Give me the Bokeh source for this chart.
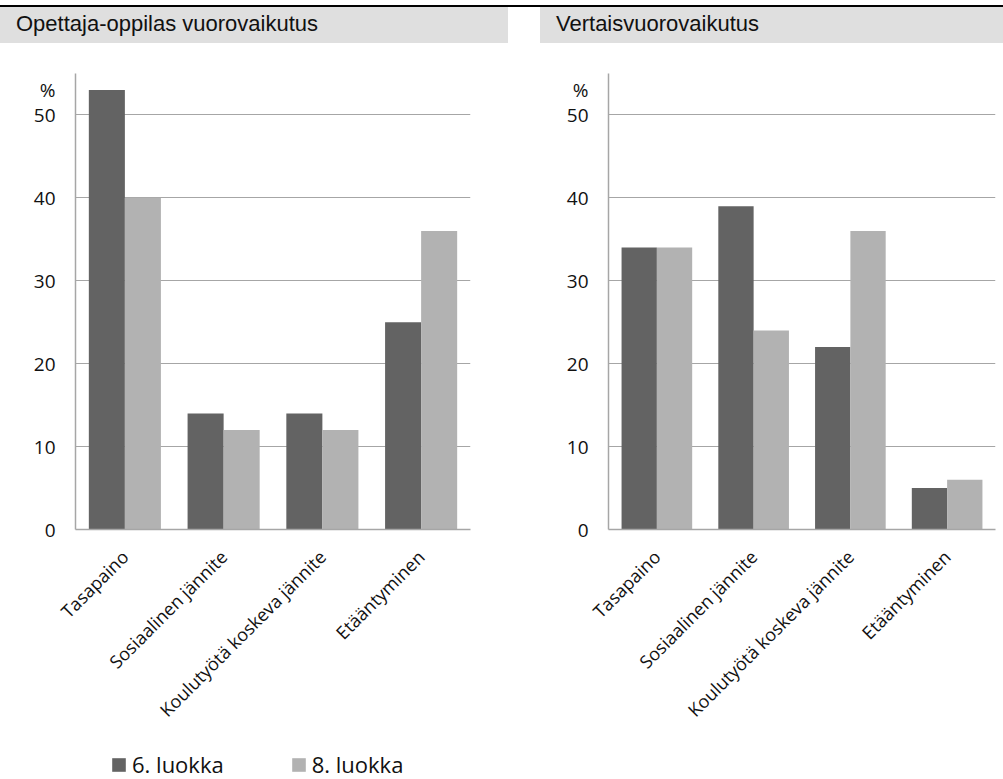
from bokeh.plotting import figure
from bokeh.models import (ColumnDataSource, Div, Legend, LegendItem,
                          Range1d, FixedTicker)
from bokeh.transform import dodge
from bokeh.layouts import column, row
from bokeh.embed import file_html
from bokeh.resources import INLINE

# ---- data -------------------------------------------------------------
categories = ["Tasapaino", "Sosiaalinen jännite",
              "Koulutyötä koskeva jännite", "Etääntyminen"]
series_names = ["6. luokka", "8. luokka"]

teacher_grade6 = [53, 14, 14, 25]
teacher_grade8 = [40, 12, 12, 36]

peer_grade6 = [34, 39, 22, 5]
peer_grade8 = [34, 24, 36, 6]

panel_titles = ["Opettaja-oppilas vuorovaikutus", "Vertaisvuorovaikutus"]
y_ticks = [0, 10, 20, 30, 40, 50]
unit_label = "%"
unit_pos = 53  # the unit sign sits just above the top tick

# ---- styling ----------------------------------------------------------
DARK = "#636363"
LIGHT = "#b2b2b2"
GRID = "#a6a6a6"
FONT = "Open Sans"
BAR_W = 0.365


def add_bars(p, src, visible=True):
    r6 = p.vbar(x=dodge("cat", -BAR_W / 2, range=p.x_range), top="g6",
                width=BAR_W, source=src, fill_color=DARK, line_color=None,
                visible=visible)
    r8 = p.vbar(x=dodge("cat", BAR_W / 2, range=p.x_range), top="g8",
                width=BAR_W, source=src, fill_color=LIGHT, line_color=None,
                visible=visible)
    return [r6, r8]


def make_panel(v6, v8, width, border_left, border_right):
    src = ColumnDataSource(dict(cat=categories, g6=v6, g8=v8))
    p = figure(x_range=categories, y_range=Range1d(0, 55),
               width=width, height=691,
               min_border_left=border_left, min_border_right=border_right,
               min_border_top=29, min_border_bottom=206,
               output_backend="svg", toolbar_location=None,
               tools="", title=None)
    p.outline_line_color = None
    p.background_fill_color = "white"
    p.border_fill_color = "white"

    add_bars(p, src)

    # value axis, with the unit sign placed as an extra tick label on top
    p.yaxis.ticker = FixedTicker(ticks=y_ticks + [unit_pos])
    p.yaxis.major_label_overrides = {unit_pos: unit_label}
    p.yaxis.minor_tick_line_color = None
    p.yaxis.major_tick_out = 0
    p.yaxis.major_tick_in = 0
    p.yaxis.major_label_standoff = 20
    p.yaxis.axis_line_color = GRID
    p.yaxis.axis_line_width = 1.5
    p.yaxis.major_label_text_font = FONT
    p.yaxis.major_label_text_font_size = "19px"
    p.yaxis.major_label_text_color = "#111111"

    # category axis
    p.xaxis.major_tick_out = 0
    p.xaxis.major_tick_in = 0
    p.xaxis.major_label_orientation = 0.785398
    p.xaxis.major_label_standoff = 24
    p.xaxis.axis_line_color = GRID
    p.xaxis.axis_line_width = 1.5
    p.xaxis.major_label_text_font = FONT
    p.xaxis.major_label_text_font_size = "18px"
    p.xaxis.major_label_text_color = "#111111"

    p.xgrid.grid_line_color = None
    p.ygrid.ticker = FixedTicker(ticks=y_ticks[1:])
    p.ygrid.grid_line_color = GRID
    p.ygrid.grid_line_width = 1.2
    return p


left = make_panel(teacher_grade6, teacher_grade8, 500, 75, 30)
right = make_panel(peer_grade6, peer_grade8, 503, 108, 8)

# shared legend strip under both panels (series renderers kept hidden here)
key = figure(width=1003, height=44, x_range=categories, y_range=Range1d(0, 55),
             x_axis_type=None, y_axis_type=None, min_border=0,
             output_backend="svg", toolbar_location=None, tools="", title=None)
key.outline_line_color = None
key.grid.grid_line_color = None
key_src = ColumnDataSource(dict(cat=categories, g6=teacher_grade6, g8=teacher_grade8))
key_renderers = add_bars(key, key_src, visible=False)
legend = Legend(items=[LegendItem(label=n, renderers=[r])
                       for n, r in zip(series_names, key_renderers)],
                orientation="horizontal", location=(110, 0),
                glyph_width=17, glyph_height=17, label_standoff=5,
                spacing=66, padding=0, margin=0,
                border_line_color=None, background_fill_alpha=0,
                label_text_font=FONT, label_text_font_size="22px",
                label_text_color="#111111")
key.add_layout(legend, "center")

header_html = (
    '<div style="position:relative;width:1003px;height:44px;'
    'font-family:\'Liberation Sans\',Arial,sans-serif;font-size:22px;color:#111;">'
    '<div style="position:absolute;left:0;top:5px;width:1003px;height:2px;background:#000;"></div>'
    '<div style="position:absolute;left:0;top:7px;width:508px;height:36px;background:#dfdfdf;"></div>'
    '<div style="position:absolute;left:540px;top:7px;width:463px;height:36px;background:#dfdfdf;"></div>'
    f'<div style="position:absolute;left:16px;top:12px;line-height:24px;">{panel_titles[0]}</div>'
    f'<div style="position:absolute;left:556px;top:12px;line-height:24px;">{panel_titles[1]}</div>'
    '</div>'
)
header = Div(text=header_html, width=1003, height=44, margin=0)

layout = column(header, row(left, right), key)

html = file_html(layout, INLINE)
html = html.replace("<head>", "<head><style>html,body{margin:0;padding:0;}</style>", 1)
open("out.html", "w").write(html)
